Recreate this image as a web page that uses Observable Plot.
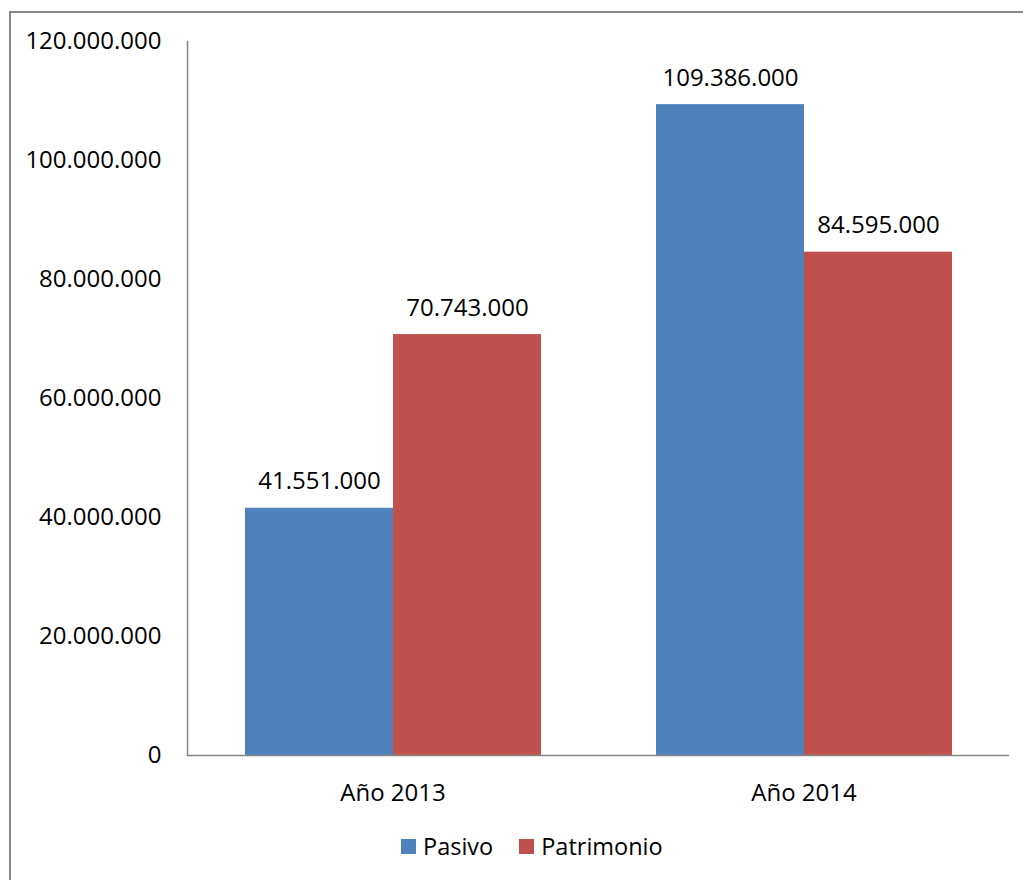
<!DOCTYPE html>
<html>
<head>
<meta charset="utf-8">
<script src="https://cdn.jsdelivr.net/npm/d3@7"></script>
<script src="https://cdn.jsdelivr.net/npm/@observablehq/plot@0.6"></script>
<style>
  html, body { margin: 0; padding: 0; background: #fff; overflow: hidden; }
  #wrap { position: relative; width: 1023px; height: 880px; font-family: "Open Sans", sans-serif; }
  #border { position: absolute; left: 9px; top: 11px; width: 1100px; height: 1000px;
            border-left: 2px solid #878787; border-top: 2px solid #878787; box-sizing: border-box; }
  #chart { position: absolute; left: 0; top: 0; }
  #legend { position: absolute; left: 401px; top: 833px; display: flex; align-items: center;
            font-size: 23.5px; line-height: 26px; color: #000; }
  .item { display: flex; align-items: center; margin-right: 26px; }
  .sw { width: 15px; height: 15px; margin-right: 7px; }
</style>
</head>
<body>
<div id="wrap">
  <div id="border"></div>
  <div id="chart"></div>
  <div id="legend"></div>
</div>
<script>
const years = ["Año 2013", "Año 2014"];
const series = ["Pasivo", "Patrimonio"];
const pasivo = [41551000, 109386000];
const patrimonio = [70743000, 84595000];
const yTicks = [0, 20000000, 40000000, 60000000, 80000000, 100000000, 120000000];
const colors = ["#4F81BD", "#C0504D"];

const locale = d3.formatLocale({decimal: ",", thousands: ".", grouping: [3], currency: ["$", ""]});
const fmt = locale.format(",d");

const data = [];
years.forEach((yr, i) => {
  data.push({year: yr, series: series[0], value: pasivo[i]});
  data.push({year: yr, series: series[1], value: patrimonio[i]});
});

const chart = Plot.plot({
  width: 1023,
  height: 820,
  marginTop: 41,
  marginBottom: 65,
  marginLeft: 186,
  marginRight: 14,
  style: {fontFamily: "Open Sans", fontSize: "24px", color: "#000", background: "transparent"},
  fx: {domain: years, padding: 0, label: null, axis: "bottom", tickSize: 0, tickPadding: 28},
  x: {domain: series, paddingInner: 0, paddingOuter: 0.385, axis: null},
  y: {domain: [0, 120000000], ticks: yTicks, tickFormat: fmt, tickSize: 0, tickPadding: 26, label: null},
  color: {domain: series, range: colors},
  marks: [
    Plot.barY(data, {fx: "year", x: "series", y: "value", fill: "series"}),
    Plot.ruleY([0], {stroke: "#868686", strokeWidth: 1.5}),
    Plot.frame({anchor: "left", facetAnchor: "left", stroke: "#868686", strokeWidth: 1.5}),
    Plot.text(data, {fx: "year", x: "series", y: "value", text: d => fmt(d.value),
      dy: -19, lineAnchor: "bottom", fill: "#000"})
  ]
});
document.getElementById("chart").appendChild(chart);

const legend = document.getElementById("legend");
series.forEach((s, i) => {
  const item = document.createElement("div");
  item.className = "item";
  const sw = document.createElement("div");
  sw.className = "sw";
  sw.style.background = colors[i];
  const t = document.createElement("span");
  t.textContent = s;
  item.appendChild(sw);
  item.appendChild(t);
  legend.appendChild(item);
});
</script>
</body>
</html>
